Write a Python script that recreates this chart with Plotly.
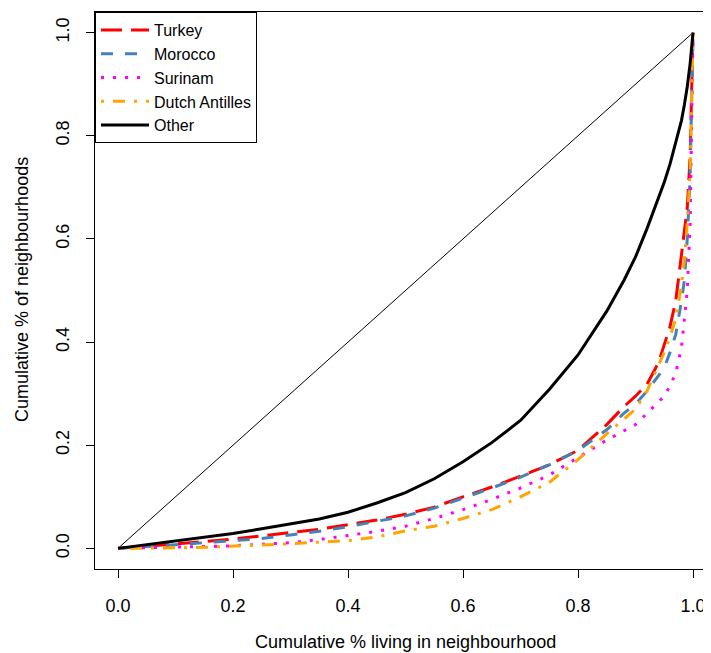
import plotly.graph_objects as go

p = [0, 0.05, 0.1, 0.15, 0.2, 0.25, 0.3, 0.35, 0.4, 0.45, 0.5, 0.55, 0.6, 0.65, 0.7,
     0.75, 0.8, 0.85, 0.88, 0.9, 0.92, 0.94, 0.95, 0.96, 0.97, 0.98, 0.985, 0.99, 0.995, 1.0]

turkey = [0, 0.004, 0.008, 0.013, 0.018, 0.024, 0.030, 0.037, 0.046, 0.055, 0.066, 0.080,
          0.100, 0.119, 0.140, 0.162, 0.190, 0.240, 0.275, 0.295, 0.318, 0.36, 0.395, 0.43,
          0.48, 0.565, 0.615, 0.66, 0.76, 1.0]
morocco = [0, 0.003, 0.007, 0.011, 0.015, 0.019, 0.026, 0.033, 0.042, 0.052, 0.063, 0.078,
           0.097, 0.117, 0.138, 0.162, 0.190, 0.230, 0.262, 0.280, 0.305, 0.335, 0.35, 0.38,
           0.415, 0.48, 0.52, 0.60, 0.72, 1.0]
surinam = [0, 0.001, 0.002, 0.003, 0.005, 0.008, 0.011, 0.017, 0.025, 0.033, 0.043, 0.058,
           0.075, 0.095, 0.117, 0.142, 0.176, 0.210, 0.228, 0.240, 0.262, 0.283, 0.295, 0.315,
           0.34, 0.39, 0.44, 0.50, 0.63, 1.0]
antilles = [0, 0.0, 0.001, 0.002, 0.004, 0.006, 0.009, 0.012, 0.015, 0.022, 0.034, 0.043,
            0.058, 0.075, 0.100, 0.128, 0.172, 0.222, 0.250, 0.270, 0.305, 0.355, 0.38, 0.41,
            0.445, 0.51, 0.56, 0.63, 0.73, 1.0]
other = [0, 0.007, 0.014, 0.022, 0.029, 0.038, 0.047, 0.057, 0.070, 0.088, 0.108, 0.135,
         0.168, 0.205, 0.248, 0.308, 0.375, 0.460, 0.520, 0.565, 0.620, 0.680, 0.71, 0.745,
         0.785, 0.83, 0.86, 0.895, 0.94, 1.0]

diag_x = [0, 1]
diag_y = [0, 1]

x_ticks = [0.0, 0.2, 0.4, 0.6, 0.8, 1.0]
x_tick_labels = ["0.0", "0.2", "0.4", "0.6", "0.8", "1.0"]
y_ticks = [0.0, 0.2, 0.4, 0.6, 0.8, 1.0]
y_tick_labels = ["0.0", "0.2", "0.4", "0.6", "0.8", "1.0"]

FONT = "Liberation Sans, Arial, sans-serif"

fig = go.Figure()
fig.add_trace(go.Scatter(x=diag_x, y=diag_y, mode="lines",
                         line=dict(color="black", width=1), showlegend=False,
                         hoverinfo="skip"))
series = [
    ("Turkey", turkey, "red", "21px,9px"),
    ("Morocco", morocco, "steelblue", "12px,12px"),
    ("Surinam", surinam, "magenta", "3px,9px"),
    ("Dutch Antilles", antilles, "orange", "3px,9px,12px,9px"),
    ("Other", other, "black", "solid"),
]
for name, vals, col, dash in series:
    fig.add_trace(go.Scatter(x=p, y=vals, mode="lines", name=name,
                             line=dict(color=col, width=3, dash=dash)))

# page body has an 8px default margin; figure sized to fit the 711x653 window
W, H = 703, 645
L, T, B = 87, 4, 84
pw, ph = W - L, H - T - B

fig.update_layout(
    width=W, height=H,
    margin=dict(l=L, r=0, t=T, b=B, autoexpand=False),
    paper_bgcolor="white", plot_bgcolor="white",
    font=dict(family=FONT, size=18, color="black"),
    showlegend=True,
    legend=dict(x=0, y=1, xanchor="left", yanchor="top",
                bordercolor="black", borderwidth=1, bgcolor="white",
                font=dict(size=16), tracegroupgap=0, itemwidth=48),
    xaxis=dict(range=[-0.04, 1.0313], showgrid=False, zeroline=False, automargin=False,
               showline=True, linecolor="black", linewidth=1, mirror=True,
               ticks="outside", ticklen=8, tickcolor="black",
               tickvals=x_ticks, ticktext=x_tick_labels, ticklabelstandoff=12),
    yaxis=dict(range=[-0.04, 1.04], showgrid=False, zeroline=False, automargin=False,
               showline=True, linecolor="black", linewidth=1,
               ticks="outside", ticklen=8, tickcolor="black", tickangle=-90,
               tickvals=y_ticks, ticktext=y_tick_labels, ticklabelstandoff=10),
)
fig.add_annotation(text="Cumulative % living in neighbourhood",
                   x=(397 - L) / pw, y=(H - B - 634) / ph,
                   xref="paper", yref="paper", showarrow=False,
                   xanchor="center", yanchor="middle", font=dict(size=18))
fig.add_annotation(text="Cumulative % of neighbourhoods",
                   x=(14 - L) / pw, y=(H - B - 282) / ph,
                   xref="paper", yref="paper", showarrow=False, textangle=-90,
                   xanchor="center", yanchor="middle", font=dict(size=18))

fig.write_html("out.html")
